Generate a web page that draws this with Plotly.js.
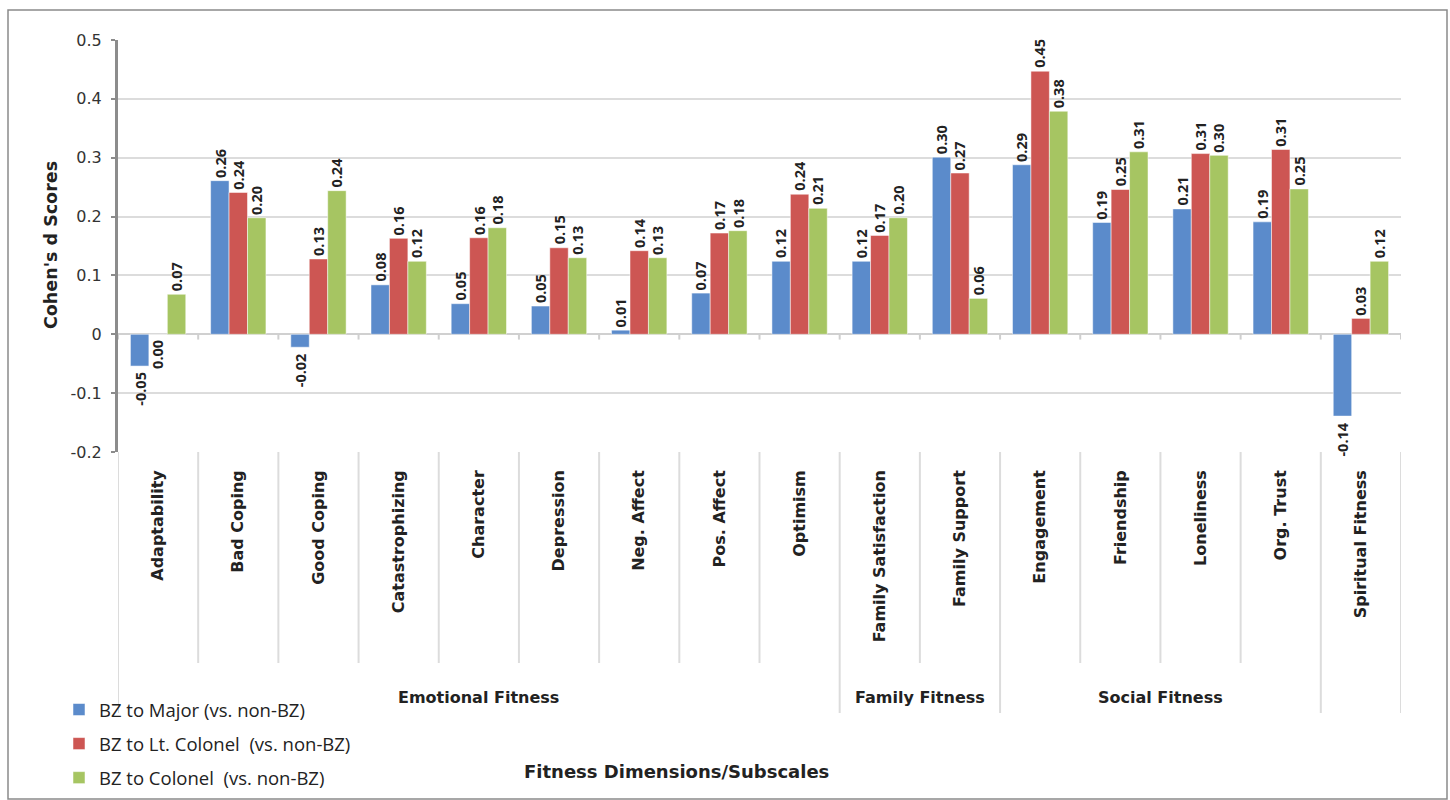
<!DOCTYPE html>
<html>
<head>
<meta charset="utf-8">
<script src="https://cdn.plot.ly/plotly-3.0.1.min.js"></script>
<style>html,body{margin:0;padding:0;background:#fff;}#chart{width:1450px;height:800px;}</style>
</head>
<body>
<div id="chart"></div>
<script>
// ---- data ----
const categories = ["Adaptability","Bad Coping","Good Coping","Catastrophizing","Character","Depression","Neg. Affect","Pos. Affect","Optimism","Family Satisfaction","Family Support","Engagement","Friendship","Loneliness","Org. Trust","Spiritual Fitness"];
const groupNames = ["Emotional Fitness","Family Fitness","Social Fitness",""];
const groupSizes = [9, 2, 4, 1];
const seriesNames = ["BZ to Major (vs. non-BZ)","BZ to Lt. Colonel  (vs. non-BZ)","BZ to Colonel  (vs. non-BZ)"];
const major    = [-0.054, 0.261, -0.022, 0.084, 0.052, 0.048, 0.007, 0.070, 0.124, 0.124, 0.301, 0.288, 0.190, 0.213, 0.191, -0.139];
const ltColonel= [0.000, 0.241, 0.128, 0.163, 0.164, 0.147, 0.142, 0.172, 0.238, 0.168, 0.274, 0.447, 0.246, 0.307, 0.314, 0.027];
const colonel  = [0.068, 0.198, 0.244, 0.124, 0.181, 0.130, 0.130, 0.176, 0.214, 0.198, 0.061, 0.379, 0.310, 0.304, 0.247, 0.124];
const yTickVals = [-0.2,-0.1,0,0.1,0.2,0.3,0.4,0.5];
const yTickText = ["-0.2","-0.1","0","0.1","0.2","0.3","0.4","0.5"];

// ---- style ----
const colors = ["#5B8BCB","#CD5653","#A6C562"];
const GFONT = "'DejaVu Sans', sans-serif";
const LFONT = "'Open Sans', Lato, sans-serif";
const W = 1450, H = 800;
const M = {l:118, r:49, t:40, b:348, autoexpand: false};
const plotH = H - M.t - M.b, plotW = W - M.l - M.r;
const px2py = p => (H - M.b - p) / plotH;   // pixel y -> paper y
const px2px = p => (p - M.l) / plotW;       // pixel x -> paper x
const bargap = 0.31;
const xIdx = categories.map((_, i) => i);
const seriesVals = [major, ltColonel, colonel];

const traces = seriesVals.map((vals, k) => ({
  type: 'bar', x: xIdx, y: vals, name: seriesNames[k],
  marker: {color: colors[k], line: {color: 'rgba(255,255,255,0.5)', width: 1}},
  legendgroup: 'g' + k, hoverinfo: 'skip'
}));

const annotations = [];
const slot = (1 - bargap) / 3;
seriesVals.forEach((vals, k) => {
  vals.forEach((v, i) => {
    annotations.push({
      x: i + (k - 1) * slot, y: v, xref: 'x', yref: 'y',
      text: v.toFixed(2), showarrow: false, textangle: -90,
      xanchor: 'center', yanchor: v <= 0 ? 'top' : 'bottom',
      yshift: v <= 0 ? -4 : 1,
      font: {family: LFONT, size: 14.5, color: '#222', weight: 'bold'}
    });
  });
});

// group labels & separators
const shapes = [];
const sepGray = '#dcdcdc';
let start = 0;
const groupBounds = [-0.5];
groupSizes.forEach((n, g) => {
  const center = start + (n - 1) / 2;
  if (groupNames[g]) {
    annotations.push({x: center, y: px2py(697), xref: 'x', yref: 'paper', text: groupNames[g], showarrow: false,
      xanchor: 'center', yanchor: 'middle', font: {family: GFONT, size: 16, color: '#222', weight: 'bold'}});
  }
  start += n;
  groupBounds.push(start - 0.5);
});
for (let i = 0; i <= categories.length; i++) {
  const b = i - 0.5;
  const isGroup = groupBounds.includes(b);
  shapes.push({type: 'line', xref: 'x', yref: 'paper', x0: b, x1: b, y0: 0, y1: px2py(isGroup ? 713 : 663),
    line: {color: sepGray, width: 2}, layer: 'below'});
  // small ticks under zero line
  shapes.push({type: 'line', xref: 'x', yref: 'y', x0: b, x1: b, y0: 0, y1: -0.009,
    line: {color: '#cfcfcf', width: 2}});
}
// outer border
shapes.push({type: 'rect', xref: 'paper', yref: 'paper', x0: px2px(8), x1: px2px(1447), y0: px2py(799), y1: px2py(10),
  line: {color: '#8a8a8a', width: 1.5}, fillcolor: 'rgba(0,0,0,0)'});

// axis titles
annotations.push({x: px2px(51), y: px2py(245), xref: 'paper', yref: 'paper', text: "Cohen's d Scores", textangle: -90,
  showarrow: false, xanchor: 'center', yanchor: 'middle', font: {family: GFONT, size: 17.5, color: '#222', weight: 'bold'}});
annotations.push({x: px2px(676), y: px2py(771), xref: 'paper', yref: 'paper', text: "Fitness Dimensions/Subscales",
  showarrow: false, xanchor: 'center', yanchor: 'middle', font: {family: GFONT, size: 18, color: '#222', weight: 'bold'}});

const layout = {
  width: W, height: H, margin: M,
  paper_bgcolor: '#fff', plot_bgcolor: '#fff',
  barmode: 'group', bargap: bargap, bargroupgap: 0,
  showlegend: true,
  legend: {x: px2px(59), y: px2py(691), xanchor: 'left', yanchor: 'top', traceorder: 'grouped', tracegroupgap: 7,
    font: {family: LFONT, size: 18.5, color: '#222'}, bgcolor: 'rgba(0,0,0,0)'},
  xaxis: {range: [-0.5, categories.length - 0.5], tickmode: 'array', tickvals: xIdx, ticktext: categories,
    tickangle: -90, ticks: '', ticklabelstandoff: 14, showgrid: false, zeroline: false, showline: false,
    tickfont: {family: GFONT, size: 16, color: '#222', weight: 'bold'}, fixedrange: true},
  yaxis: {range: [-0.2, 0.5], tickmode: 'array', tickvals: yTickVals, ticktext: yTickText,
    showgrid: true, gridcolor: '#dcdcdc', gridwidth: 2,
    zeroline: true, zerolinecolor: '#d0d0d0', zerolinewidth: 2,
    showline: true, linecolor: '#8c8c8c', linewidth: 3, ticks: 'outside', ticklen: 4, tickcolor: '#8c8c8c', tickwidth: 2,
    ticklabelstandoff: 6,
    tickfont: {family: GFONT, size: 16, color: '#333'}, fixedrange: true},
  annotations: annotations, shapes: shapes
};

Plotly.newPlot('chart', traces, layout, {displayModeBar: false, staticPlot: true});
</script>
</body>
</html>
